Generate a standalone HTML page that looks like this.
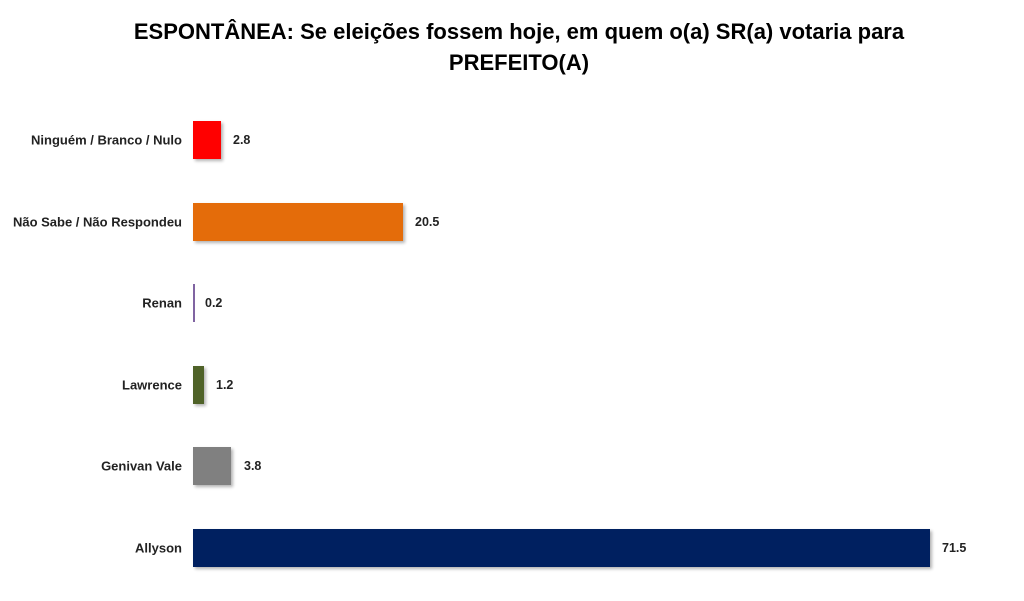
<!DOCTYPE html>
<html><head><meta charset="utf-8"><style>
body{margin:0;width:1024px;height:601px;background:#fff;font-family:"Liberation Sans",sans-serif;position:relative;overflow:hidden}
.t{position:absolute;left:0;width:1038px;text-align:center;font-weight:bold;font-size:22px;color:#000}
.l{position:absolute;right:842px;font-weight:bold;font-size:13px;color:#222;transform:translateY(-50%);white-space:nowrap}
.b{position:absolute;left:193px;height:38px;box-shadow:2px 2px 3px rgba(0,0,0,0.3)}
.v{position:absolute;font-weight:bold;font-size:12.5px;color:#222;transform:translateY(-50%)}
</style></head><body>
<div class="t" style="top:19px">ESPONTÂNEA: Se eleições fossem hoje, em quem o(a) SR(a) votaria para</div>
<div class="t" style="top:50px">PREFEITO(A)</div>

<div class="l" style="top:140px">Ninguém / Branco / Nulo</div>
<div class="b" style="top:121px;width:28px;background:#ff0000"></div>
<div class="v" style="top:140px;left:233px">2.8</div>

<div class="l" style="top:222px">Não Sabe / Não Respondeu</div>
<div class="b" style="top:203px;width:210px;background:#e46c0a"></div>
<div class="v" style="top:222px;left:415px">20.5</div>

<div class="l" style="top:303px">Renan</div>
<div class="b" style="top:284px;width:2px;background:#8064a2;box-shadow:none"></div>
<div class="v" style="top:303px;left:205px">0.2</div>

<div class="l" style="top:385px">Lawrence</div>
<div class="b" style="top:366px;width:11px;background:#4f6228"></div>
<div class="v" style="top:385px;left:216px">1.2</div>

<div class="l" style="top:466px">Genivan Vale</div>
<div class="b" style="top:447px;width:38px;background:#808080"></div>
<div class="v" style="top:466px;left:244px">3.8</div>

<div class="l" style="top:548px">Allyson</div>
<div class="b" style="top:529px;width:737px;background:#002060"></div>
<div class="v" style="top:548px;left:942px">71.5</div>
</body></html>
